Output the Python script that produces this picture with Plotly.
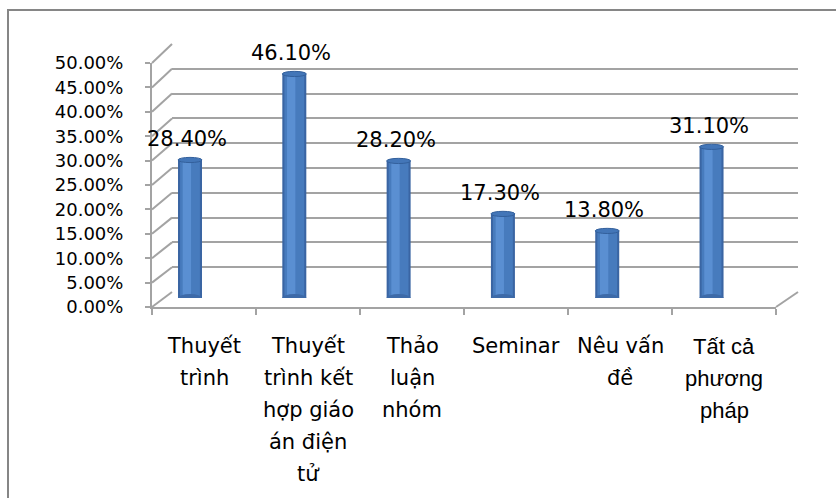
import plotly.graph_objects as go

# ---------------- data ----------------
categories = ["Thuyết trình", "Thuyết trình kết hợp giáo án điện tử", "Thảo luận nhóm",
              "Seminar", "Nêu vấn đề", "Tất cả phương pháp"]
category_lines = [["Thuyết", "trình"],
                  ["Thuyết", "trình kết", "hợp giáo", "án điện", "tử"],
                  ["Thảo", "luận", "nhóm"],
                  ["Seminar"],
                  ["Nêu vấn", "đề"],
                  ["Tất cả", "phương", "pháp"]]
values = [0.284, 0.461, 0.282, 0.173, 0.138, 0.311]
value_labels = ["28.40%", "46.10%", "28.20%", "17.30%", "13.80%", "31.10%"]
y_ticks = [0.0, 0.05, 0.10, 0.15, 0.20, 0.25, 0.30, 0.35, 0.40, 0.45, 0.50]

# ---------------- geometry (pixels) ----------------
W, H = 836, 498
def px(x): return x / W
def py(y): return 1 - y / H

# back wall
BX0, BX1, BY0, BY1 = 172, 798, 292, 44
# front axis
FX0, FX1, FY0, FY1 = 152, 776, 307, 63
# bars (mid depth)
CX0, CX1, CY0, CY1 = 137.85, 763.7, 298, 55

YMAX = 0.5
n = len(categories)
xr = [-0.5, n - 0.5]

def front_y(v): return py(FY0 - (FY0 - FY1) * v / YMAX)
def back_y(v): return py(BY0 - (BY0 - BY1) * v / YMAX)

GRID = "#a3a3a3"
FONT_DV = "DejaVu Sans"

fig = go.Figure()

# bars: layered to emulate cylinder shading
xs = list(range(n))
for w, col, off in [(0.23, "#3a65a3", None), (0.19, "#477bbd", None), (0.08, "#5a8fd2", -0.07)]:
    kw = dict(offset=off) if off is not None else {}
    fig.add_trace(go.Bar(x=xs, y=values, width=w, marker=dict(color=col, line=dict(width=0)),
                         xaxis="x3", yaxis="y3", hoverinfo="skip", showlegend=False, **kw))

# invisible traces so the back wall and front axes render
fig.add_trace(go.Scatter(x=[0], y=[0], mode="markers", marker=dict(opacity=0),
                         xaxis="x", yaxis="y", hoverinfo="skip", showlegend=False))
fig.add_trace(go.Scatter(x=[0], y=[0], mode="markers", marker=dict(opacity=0),
                         xaxis="x2", yaxis="y2", hoverinfo="skip", showlegend=False))

shapes = []
# cylinder tops and bottoms
hh = 2.6 / ((CY0 - CY1) / YMAX)
for i, v in enumerate(values):
    shapes.append(dict(type="circle", xref="x3", yref="y3", x0=i - 0.115, x1=i + 0.115,
                       y0=-hh * 1.5, y1=hh * 1.5, fillcolor="#3d6aa8", line=dict(width=0),
                       layer="above"))
    shapes.append(dict(type="circle", xref="x3", yref="y3", x0=i - 0.115, x1=i + 0.115,
                       y0=v - hh, y1=v + hh, fillcolor="#4376b8",
                       line=dict(color="#33609c", width=1), layer="above"))

# left wall diagonals
for t in y_ticks:
    shapes.append(dict(type="line", xref="paper", yref="paper", x0=px(FX0), y0=front_y(t),
                       x1=px(BX0), y1=back_y(t), line=dict(color=GRID, width=2), layer="below"))
# floor right diagonal
shapes.append(dict(type="line", xref="paper", yref="paper", x0=px(FX1), y0=front_y(0),
                   x1=px(BX1), y1=back_y(0), line=dict(color=GRID, width=2), layer="below"))
# outer border (left and top)
shapes.append(dict(type="line", xref="paper", yref="paper", x0=px(8), y0=py(10), x1=px(8), y1=py(H),
                   line=dict(color="#868686", width=2)))
shapes.append(dict(type="line", xref="paper", yref="paper", x0=px(7), y0=py(10), x1=px(W), y1=py(10),
                   line=dict(color="#868686", width=2)))

annotations = []
for i, lab in enumerate(value_labels):
    annotations.append(dict(x=i, y=values[i], xref="x3", yref="y3", text=lab, showarrow=False,
                            xshift=-3, yshift=21, yanchor="middle",
                            font=dict(family=FONT_DV, size=21, color="#000000")))
for i, lines in enumerate(category_lines):
    last = i == n - 1
    for k, line in enumerate(lines):
        annotations.append(dict(x=i, y=py(346 + 32 * k), xref="x2", yref="paper", text=line,
                                showarrow=False, yanchor="middle", xanchor="center",
                                font=dict(family="Liberation Sans" if last else FONT_DV,
                                          size=22 if last else 21, color="#000000")))

fig.update_layout(
    width=W, height=H, margin=dict(l=0, r=0, t=0, b=0, pad=0, autoexpand=False),
    paper_bgcolor="white", plot_bgcolor="rgba(0,0,0,0)",
    barmode="overlay", showlegend=False,
    shapes=shapes, annotations=annotations,
    # back wall
    xaxis=dict(domain=[px(BX0), px(BX1)], range=xr, showgrid=False, zeroline=False,
               showticklabels=False, showline=False, ticks="", automargin=False),
    yaxis=dict(domain=[py(BY0), py(BY1)], range=[0, YMAX], tickvals=y_ticks, showgrid=True,
               gridcolor=GRID, gridwidth=2, zeroline=False, showticklabels=False,
               showline=False, ticks="", anchor="x", automargin=False),
    # front axis
    xaxis2=dict(domain=[px(FX0), px(FX1)], range=xr, tickvals=[j - 0.5 for j in range(n + 1)],
                ticks="outside", ticklen=6, tickwidth=2, tickcolor=GRID, showticklabels=False,
                showgrid=False, zeroline=False, showline=True, linecolor=GRID, linewidth=2,
                anchor="y2", automargin=False),
    yaxis2=dict(domain=[py(FY0), py(FY1)], range=[0, YMAX], tickvals=y_ticks, tickformat=".2%",
                ticks="outside", ticklen=5, tickwidth=2, tickcolor=GRID, showgrid=False,
                zeroline=False, showline=True, linecolor=GRID, linewidth=2, anchor="x2",
                ticklabelstandoff=18, automargin=False,
                tickfont=dict(family=FONT_DV, size=18, color="#000000")),
    # bars
    xaxis3=dict(domain=[px(CX0), px(CX1)], range=xr, visible=False, anchor="y3", automargin=False),
    yaxis3=dict(domain=[py(CY0), py(CY1)], range=[0, YMAX], visible=False, anchor="x3",
                automargin=False),
)

post = ("document.body.style.margin='0';document.body.style.overflow='hidden';")
fig.write_html("out.html", config={"displayModeBar": False}, post_script=post)
